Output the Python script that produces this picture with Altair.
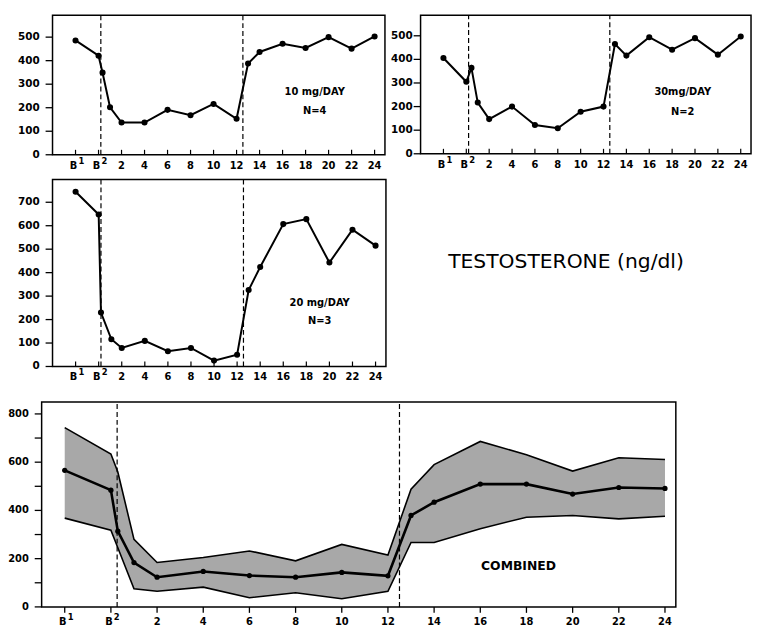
import altair as alt
import pandas as pd

# ---- data (x: B1 -> -2, B2 -> 0, then study days) ----
NUM_TICKS = [2, 4, 6, 8, 10, 12, 14, 16, 18, 20, 22, 24]
NUM_LABELS = ["2", "4", "6", "8", "10", "12", "14", "16", "18", "20", "22", "24"]
B_TICKS = [-2, 0]
B_SUPERSCRIPTS = ["1", "2"]
X_TICKS = B_TICKS + NUM_TICKS

x_10 = [-2, 0, 0.35, 1, 2, 4, 6, 8, 10, 12, 13, 14, 16, 18, 20, 22, 24]
y_10 = [486, 421, 349, 202, 137, 137, 191, 168, 216, 153, 388, 437, 472, 454, 500, 451, 503]

x_30 = [-2, 0, 0.45, 1, 2, 4, 6, 8, 10, 12, 13, 14, 16, 18, 20, 22, 24]
y_30 = [406, 305, 364, 217, 147, 200, 122, 108, 178, 200, 465, 416, 494, 441, 490, 420, 497]

x_20 = [-2, 0, 0.2, 1.1, 2, 4, 6, 8, 10, 12, 13, 14, 16, 18, 20, 22, 24]
y_20 = [745, 648, 230, 116, 79, 109, 65, 79, 25, 50, 326, 424, 607, 628, 443, 583, 515]

x_comb = [-2, 0, 0.3, 1, 2, 4, 6, 8, 10, 12, 13, 14, 16, 18, 20, 22, 24]
mean_comb = [566, 484, 314, 184, 123, 147, 130, 123, 143, 129, 379, 434, 509, 509, 468, 495, 491]
upper_comb = [743, 634, 559, 280, 184, 205, 232, 191, 259, 215, 488, 590, 686, 631, 563, 618, 611]
lower_comb = [368, 318, 245, 75, 65, 82, 38, 59, 34, 65, 267, 267, 324, 372, 379, 365, 376]

y_ticks_small = [0, 100, 200, 300, 400, 500]
y_ticks_20 = [0, 100, 200, 300, 400, 500, 600, 700]
y_ticks_comb = [0, 100, 200, 300, 400, 500, 600, 700, 800]
y_labels_comb = [0, 200, 400, 600, 800]

dash_small = [0.2, 12.55]
dash_comb = [0.27, 12.5]

FONT = "DejaVu Sans"


def text_layer(txt, px, py, size=10, weight="bold"):
    return alt.Chart(pd.DataFrame({"t": [txt]})).mark_text(
        font=FONT, fontSize=size, fontWeight=weight, color="black"
    ).encode(x=alt.value(px), y=alt.value(py), text="t:N")


def frame_parts(sx, sy, xdom, ydom, left, bottom, yticks, ylabels, ylab_gap,
                dash_x, inward_x, xlab_size=10, ylab_size=10.5):
    X = lambda f: alt.X(f, scale=sx, axis=None)
    Y = lambda f: alt.Y(f, scale=sy, axis=None)
    frame = alt.Chart(pd.DataFrame({"x0": [xdom[0]], "x1": [xdom[1]],
                                    "y0": [ydom[0]], "y1": [ydom[1]]})).mark_rect(
        fillOpacity=0, stroke="black", strokeWidth=1.5
    ).encode(x=X("x0:Q"), x2="x1:Q", y=Y("y0:Q"), y2="y1:Q")
    xt = pd.DataFrame({"x": X_TICKS})
    if inward_x:
        xtick = alt.Chart(xt).mark_rule(color="black", strokeWidth=1.2).encode(
            x=X("x:Q"), y=alt.value(bottom), y2=alt.value(bottom - 5))
        xlab_y = bottom + 6
    else:
        xtick = alt.Chart(xt).mark_rule(color="black", strokeWidth=1.3).encode(
            x=X("x:Q"), y=alt.value(bottom), y2=alt.value(bottom + 6))
        xlab_y = bottom + 10
    num_lab = alt.Chart(pd.DataFrame({"x": NUM_TICKS, "lab": NUM_LABELS})).mark_text(
        font=FONT, fontSize=xlab_size, fontWeight="bold", color="black", baseline="top"
    ).encode(x=X("x:Q"), y=alt.value(xlab_y), text="lab:N")
    b_df = pd.DataFrame({"x": B_TICKS, "b": ["B"] * len(B_TICKS), "sup": B_SUPERSCRIPTS})
    b_lab = alt.Chart(b_df).mark_text(
        font=FONT, fontSize=xlab_size, fontWeight="bold", color="black", baseline="top", dx=-2
    ).encode(x=X("x:Q"), y=alt.value(xlab_y), text="b:N")
    b_sup = alt.Chart(b_df).mark_text(
        font=FONT, fontSize=xlab_size - 1.5, fontWeight="bold", color="black",
        baseline="top", align="left", dx=3
    ).encode(x=X("x:Q"), y=alt.value(xlab_y - 4), text="sup:N")
    ytick = alt.Chart(pd.DataFrame({"y": yticks})).mark_rule(
        color="black", strokeWidth=1.3
    ).encode(y=Y("y:Q"), x=alt.value(left - 7), x2=alt.value(left))
    ylab = alt.Chart(pd.DataFrame({"y": ylabels, "lab": [str(v) for v in ylabels]})).mark_text(
        font=FONT, fontSize=ylab_size, fontWeight="bold", color="black",
        align="right", baseline="middle"
    ).encode(y=Y("y:Q"), x=alt.value(left - ylab_gap), text="lab:N")
    dashes = alt.Chart(pd.DataFrame({"x": dash_x, "y0": [ydom[0]] * len(dash_x),
                                     "y1": [ydom[1]] * len(dash_x)})).mark_rule(
        color="black", strokeDash=[5, 3], strokeWidth=1.2
    ).encode(x=X("x:Q"), y=Y("y0:Q"), y2="y1:Q")
    return [frame, dashes, xtick, num_lab, b_lab, b_sup, ytick, ylab]


def small_panel(xs, ys, xr, yr, ymax, yticks, texts, ylab_gap):
    xdom = [-4, 24.9]
    ydom = [0, ymax]
    sx = alt.Scale(domain=xdom, range=xr, nice=False, zero=False)
    sy = alt.Scale(domain=ydom, range=[yr[1], yr[0]], nice=False, zero=False)
    df = pd.DataFrame({"x": xs, "y": ys})
    line = alt.Chart(df).mark_line(color="black", strokeWidth=2).encode(
        x=alt.X("x:Q", scale=sx, axis=None), y=alt.Y("y:Q", scale=sy, axis=None))
    pts = alt.Chart(df).mark_circle(color="black", size=38, opacity=1).encode(
        x=alt.X("x:Q", scale=sx, axis=None), y=alt.Y("y:Q", scale=sy, axis=None))
    parts = frame_parts(sx, sy, xdom, ydom, xr[0], yr[1], yticks, yticks, ylab_gap,
                        dash_small, True)
    return alt.layer(*(parts + [line, pts] + texts))


# chart coordinates (page minus the 8px margin)
A = small_panel(x_10, y_10, [45, 381], [4, 145], 593, y_ticks_small,
                [text_layer("10 mg/DAY", 310, 82), text_layer("N=4", 310, 101)], 13)
B = small_panel(x_30, y_30, [417, 751], [4, 144], 587, y_ticks_small,
                [text_layer("30mg/DAY", 682, 82), text_layer("N=2", 682, 102)], 8)
C = small_panel(x_20, y_20, [45, 382], [170, 359], 797, y_ticks_20,
                [text_layer("20 mg/DAY", 315, 295), text_layer("N=3", 315, 313),
                 text_layer("TESTOSTERONE (ng/dl)", 564, 253, size=20.5, weight="normal")], 13)

# bottom: combined
xdom_d, ydom_d = [-3, 24.47], [0, 849]
sx_d = alt.Scale(domain=xdom_d, range=[34, 675], nice=False, zero=False)
sy_d = alt.Scale(domain=ydom_d, range=[602, 395], nice=False, zero=False)
dfc = pd.DataFrame({"x": x_comb, "m": mean_comb, "hi": upper_comb, "lo": lower_comb})
XD = alt.X("x:Q", scale=sx_d, axis=None)
band = alt.Chart(dfc).mark_area(color="#a8a8a8", opacity=1).encode(
    x=XD, y=alt.Y("lo:Q", scale=sy_d, axis=None), y2="hi:Q")
hi_line = alt.Chart(dfc).mark_line(color="black", strokeWidth=1.6).encode(
    x=XD, y=alt.Y("hi:Q", scale=sy_d, axis=None))
lo_line = alt.Chart(dfc).mark_line(color="black", strokeWidth=1.6).encode(
    x=XD, y=alt.Y("lo:Q", scale=sy_d, axis=None))
m_line = alt.Chart(dfc).mark_line(color="black", strokeWidth=2.6).encode(
    x=XD, y=alt.Y("m:Q", scale=sy_d, axis=None))
m_pts = alt.Chart(dfc).mark_circle(color="black", size=28, opacity=1).encode(
    x=XD, y=alt.Y("m:Q", scale=sy_d, axis=None))
parts_d = frame_parts(sx_d, sy_d, xdom_d, ydom_d, 34, 602, y_ticks_comb, y_labels_comb, 13,
                      dash_comb, False, xlab_size=10, ylab_size=10)
D = alt.layer(*([band, hi_line, lo_line, m_line, m_pts] + parts_d +
                [text_layer("COMBINED", 516, 561, size=12.5)]))

chart = alt.layer(A, B, C, D).resolve_scale(
    x="independent", y="independent"
).properties(width=753, height=620, padding=0).configure_view(strokeOpacity=0)

chart.save("out.html", embed_options={"renderer": "svg", "actions": False})
